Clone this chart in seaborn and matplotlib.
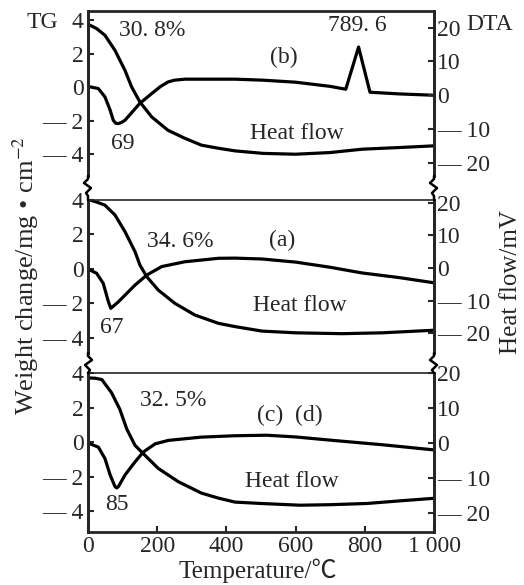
import matplotlib as mpl
import matplotlib.pyplot as plt
from matplotlib.lines import Line2D
import seaborn as sns
import pandas as pd
import numpy as np

# ---- data (temperature in C, TG in mg/cm2, DTA drawn in TG-axis units)
temp_tg_b = [0, 6, 25, 49, 78, 107, 126, 150, 184, 231, 280, 328, 376, 425, 506, 600, 700, 792, 900, 1000]
tg_b = [3.75, 3.7, 3.5, 3.1, 2.2, 1.0, 0.02, -0.88, -1.77, -2.57, -3.05, -3.46, -3.64, -3.8, -3.95, -4.0, -3.9, -3.7, -3.6, -3.5]
temp_dta_b = [0, 6, 30, 49, 64, 73, 80, 88, 97, 107, 150, 184, 210, 232, 250, 280, 425, 506, 600, 700, 745, 782, 815, 900, 1000]
dta_b = [0.02, 0.02, -0.08, -0.58, -1.37, -1.97, -2.15, -2.17, -2.1, -1.97, -0.96, -0.38, 0.05, 0.32, 0.42, 0.48, 0.48, 0.42, 0.3, 0.05, -0.12, 2.4, -0.3, -0.4, -0.48]

temp_tg_a = [0, 6, 25, 49, 78, 107, 136, 150, 170, 203, 251, 309, 377, 425, 503, 600, 734, 850, 1000]
tg_a = [4.0, 4.0, 3.88, 3.7, 3.13, 2.16, 1.0, 0.23, -0.45, -1.22, -1.99, -2.67, -3.15, -3.34, -3.6, -3.7, -3.75, -3.7, -3.55]
temp_dta_a = [0, 6, 25, 44, 59, 66, 88, 136, 170, 213, 280, 377, 425, 503, 600, 700, 792, 900, 1000]
dta_a = [0.0, -0.06, -0.25, -0.83, -1.9, -2.28, -1.9, -0.93, -0.35, 0.14, 0.42, 0.62, 0.63, 0.58, 0.4, 0.1, -0.23, -0.5, -0.8]

temp_tg_c = [0, 6, 20, 40, 68, 92, 112, 136, 160, 203, 261, 328, 377, 425, 500, 613, 700, 806, 900, 1000]
tg_c = [3.75, 3.71, 3.7, 3.62, 2.86, 1.9, 0.76, -0.19, -0.67, -1.52, -2.29, -2.95, -3.24, -3.47, -3.55, -3.65, -3.62, -3.55, -3.4, -3.25]
temp_dta_c = [0, 6, 30, 49, 64, 78, 83, 88, 107, 136, 160, 194, 232, 328, 425, 517, 600, 708, 850, 1000]
dta_c = [-0.05, -0.1, -0.29, -0.95, -1.9, -2.57, -2.65, -2.57, -1.9, -1.14, -0.57, -0.1, 0.1, 0.29, 0.37, 0.4, 0.3, 0.1, -0.15, -0.45]

left_ticks = [-4, -2, 0, 2, 4]
left_labels = ["— 4", "— 2", "0", "2", "4"]
right_ticks = [-20, -10, 0, 10, 20]
right_labels = ["— 20", "— 10", "0", "10", "20"]
x_ticks = [0, 200, 400, 600, 800, 1000]
x_labels = ["0", "200", "400", "600", "800", "1 000"]

sns.set_style("ticks")
plt.rcParams['font.family'] = ['Liberation Serif', 'Noto Sans CJK SC', 'DejaVu Sans']
plt.rcParams['mathtext.fontset'] = 'stix'
mpl.rc('font', size=17)

W, H = 524, 585
fig = plt.figure(figsize=(W / 100, H / 100), dpi=100)


def rect(top, bottom, left=88, right=434):
    return [left / W, 1 - bottom / H, (right - left) / W, (bottom - top) / H]


def fig_pt(x, y):
    return x / W, 1 - y / H


panels = [
    dict(top=11, bottom=176, ylim=(-5.3, 4.55), rlim=(-24.0, 24.9),
         tg=(temp_tg_b, tg_b), dta=(temp_dta_b, dta_b), topw=2.0, bottom_spine=False),
    dict(top=200, bottom=353, ylim=(-4.87, 4.0), rlim=(-26.0, 20.8),
         tg=(temp_tg_a, tg_a), dta=(temp_dta_a, dta_a), topw=1.2, bottom_spine=False),
    dict(top=373, bottom=532, ylim=(-5.2, 3.95), rlim=(-25.4, 20.0),
         tg=(temp_tg_c, tg_c), dta=(temp_dta_c, dta_c), topw=1.2, bottom_spine=True),
]

axes = []
for p in panels:
    ax = fig.add_axes(rect(p['top'], p['bottom']))
    tg = pd.DataFrame({'T': p['tg'][0], 'v': p['tg'][1]})
    dta = pd.DataFrame({'T': p['dta'][0], 'v': p['dta'][1]})
    sns.lineplot(data=tg, x='T', y='v', ax=ax, color='black', linewidth=2.3)
    sns.lineplot(data=dta, x='T', y='v', ax=ax, color='black', linewidth=2.3)
    ax.set_xlim(0, 1000)
    ax.set_ylim(*p['ylim'])
    ax.set_yticks(left_ticks)
    ax.set_yticklabels(left_labels)
    ax.set_xlabel("")
    ax.set_ylabel("")
    ax.tick_params(direction='in', length=4, width=1.5, pad=3)
    for s in ['left', 'right']:
        ax.spines[s].set_linewidth(2.0)
    ax.spines['top'].set_linewidth(p['topw'])
    ax.spines['bottom'].set_visible(p['bottom_spine'])
    ax.spines['bottom'].set_linewidth(2.0)
    if p['bottom_spine']:
        ax.set_xticks(x_ticks)
        ax.set_xticklabels(x_labels)
    else:
        ax.set_xticks([])
    rax = ax.twinx()
    rax.set_ylim(*p['rlim'])
    rax.set_yticks(right_ticks)
    rax.set_yticklabels(right_labels)
    rax.tick_params(direction='in', length=4, width=1.5, pad=2)
    for s in ['left', 'right']:
        rax.spines[s].set_linewidth(2.0)
    rax.spines['top'].set_visible(False)
    rax.spines['bottom'].set_visible(False)
    axes.append(ax)


# axis breaks between panels
def zig(x, y0, y1, sign):
    pts = [(x, y0), (x, y0 + 3), (x + 4 * sign, y0 + 7), (x - 3 * sign, y0 + 12),
           (x + 2 * sign, y0 + 17), (x, y0 + 20), (x, y1)]
    xs, ys = zip(*[fig_pt(a, b) for a, b in pts])
    fig.add_artist(Line2D(xs, ys, color='black', linewidth=1.8, transform=fig.transFigure))


zig(88, 176, 200, -1)
zig(88, 353, 373, 1)
zig(434, 176, 200, -1)
zig(434, 353, 373, -1)

# annotations
a1, a2, a3 = axes
a1.text(185, 3.4, "30. 8%", ha='center', va='center')
a1.text(777, 3.7, "789. 6", ha='center', va='center')
a1.text(566, 1.8, "(b)", ha='center', va='center')
a1.text(101, -3.35, "69", ha='center', va='center')
a1.text(603, -2.75, "Heat flow", ha='center', va='center')

a2.text(266, 1.57, "34. 6%", ha='center', va='center')
a2.text(561, 1.68, "(a)", ha='center', va='center')
a2.text(69, -3.42, "67", ha='center', va='center')
a2.text(613, -2.09, "Heat flow", ha='center', va='center')

a3.text(246, 2.4, "32. 5%", ha='center', va='center')
a3.text(584, 1.54, "(c)  (d)", ha='center', va='center')
a3.text(84, -3.6, "85", ha='center', va='center')
a3.text(590, -2.29, "Heat flow", ha='center', va='center')

fig.text(*fig_pt(42, 22), "TG", ha='center', va='center')
fig.text(*fig_pt(490, 24), "DTA", ha='center', va='center')
fig.text(*fig_pt(26, 276), "Weight change/mg • cm$^{-2}$", rotation=90, ha='center', va='center', fontsize=19)
fig.text(*fig_pt(511, 282), "Heat flow/mV", rotation=90, ha='center', va='center', fontsize=18)
fig.text(*fig_pt(258, 571), "Temperature/℃", ha='center', va='center', fontsize=18)

plt.savefig('out.png', dpi=100)
plt.close()
